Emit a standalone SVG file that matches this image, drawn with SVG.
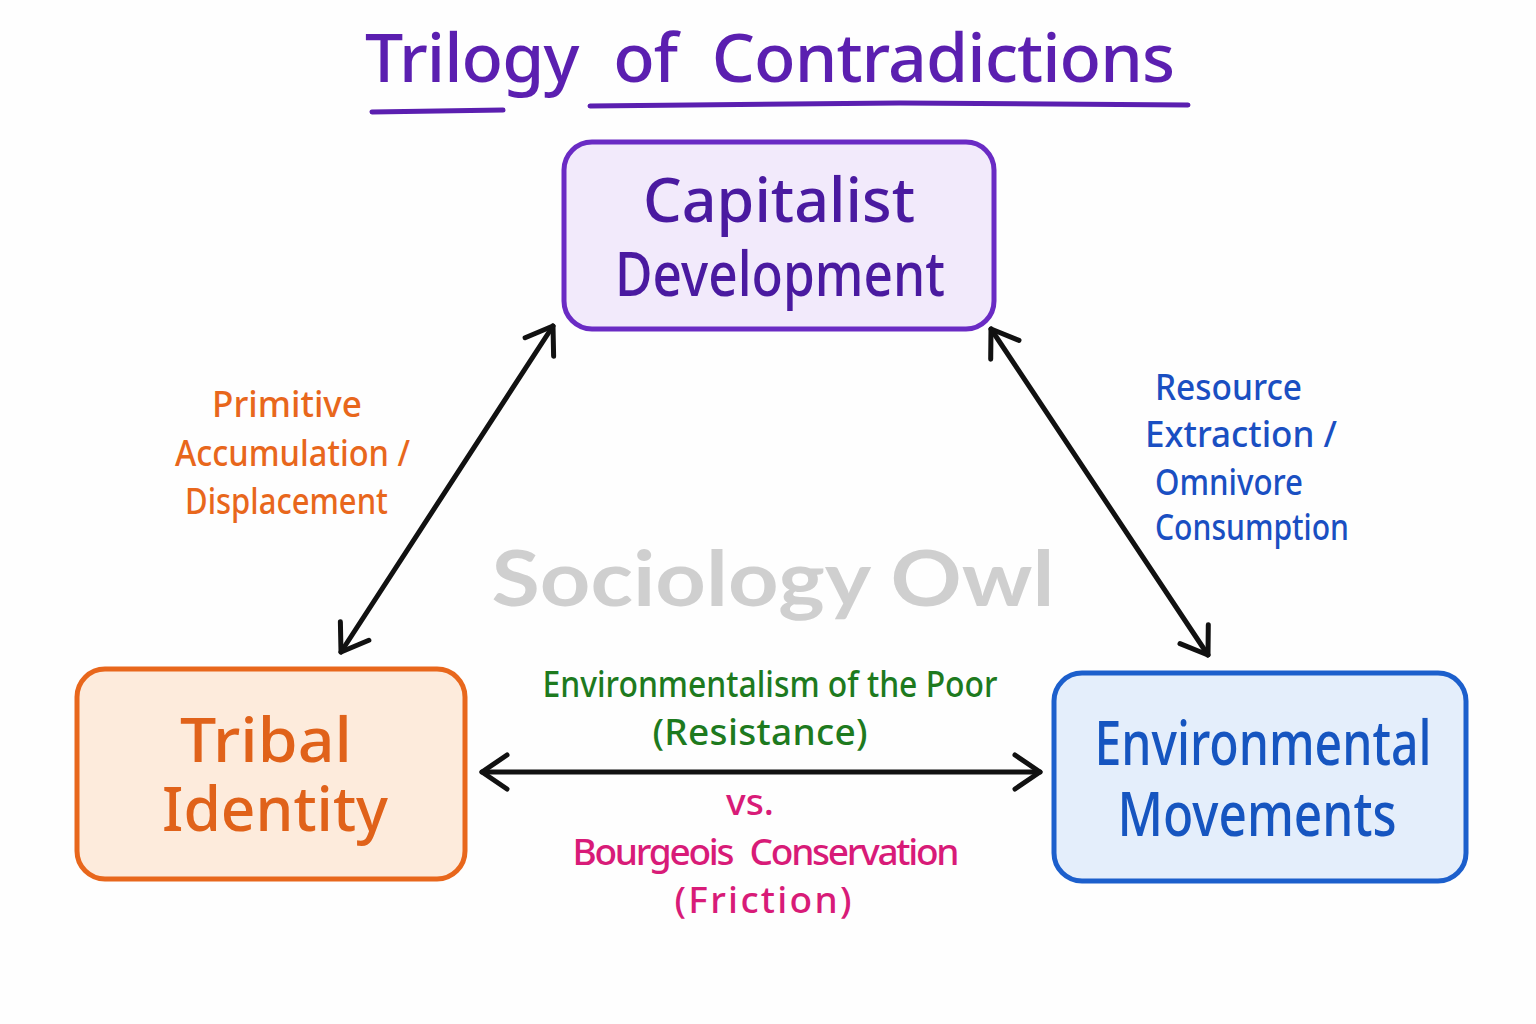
<svg xmlns="http://www.w3.org/2000/svg" width="1536" height="1024" viewBox="0 0 1536 1024">
<defs>
<style>
.hand{font-family:"Noto Sans","DejaVu Sans",sans-serif;font-weight:500;}
.node-text{font-size:62px;text-anchor:middle;}
.lbl{font-size:37px;}
.mid{text-anchor:middle;}
.box{stroke-width:5;}
.conn{stroke:#111;stroke-width:5;stroke-linecap:round;fill:none;}
</style>
<marker id="ah" viewBox="0 0 32 40" refX="29" refY="20" markerWidth="32" markerHeight="40" markerUnits="userSpaceOnUse" orient="auto-start-reverse">
<path d="M4 3 L29 20 L4 37" fill="none" stroke="#111" stroke-width="5" stroke-linecap="round" stroke-linejoin="round"/>
</marker>
</defs>
<rect width="1536" height="1024" fill="#fefefe"/>

<g id="title">
<text class="hand" x="365" y="82" font-size="68" fill="#5b1fb0" textLength="810" lengthAdjust="spacing" word-spacing="18">Trilogy of Contradictions</text>
<path d="M372 112 L503 110" stroke="#5b1fb0" stroke-width="5" stroke-linecap="round"/>
<path d="M590 106 L900 103 L1188 105" stroke="#5b1fb0" stroke-width="5" stroke-linecap="round" fill="none"/>
</g>

<text id="watermark" x="773" y="606" font-family="Lato,'Open Sans',sans-serif" font-weight="700" font-size="76" fill="#cfcfcf" text-anchor="middle" textLength="563" lengthAdjust="spacingAndGlyphs">Sociology Owl</text>

<g id="connectors">
<line class="conn" x1="553" y1="326" x2="341" y2="652" marker-start="url(#ah)" marker-end="url(#ah)"/>
<line class="conn" x1="991" y1="329" x2="1208" y2="655" marker-start="url(#ah)" marker-end="url(#ah)"/>
<line class="conn" x1="482" y1="772" x2="1040" y2="772" marker-start="url(#ah)" marker-end="url(#ah)"/>
</g>

<g id="node-capitalist">
<rect class="box" x="564" y="142" width="430" height="187" rx="28" fill="#f2eafb" stroke="#6a2bc4"/>
<text class="hand node-text" x="779" y="222" fill="#4a1aa0" textLength="272" lengthAdjust="spacingAndGlyphs">Capitalist</text>
<text class="hand node-text" x="780" y="296" fill="#4a1aa0" textLength="330" lengthAdjust="spacingAndGlyphs">Development</text>
</g>

<g id="node-tribal">
<rect class="box" x="77" y="669" width="388" height="210" rx="28" fill="#fdebdc" stroke="#e8671c"/>
<text class="hand node-text" x="266" y="762" fill="#e0621a" textLength="172" lengthAdjust="spacingAndGlyphs">Tribal</text>
<text class="hand node-text" x="275" y="831" fill="#e0621a" textLength="226" lengthAdjust="spacingAndGlyphs">Identity</text>
</g>

<g id="node-environmental">
<rect class="box" x="1054" y="673" width="412" height="208" rx="28" fill="#e4eefb" stroke="#1c5fcc"/>
<text class="hand node-text" x="1263" y="765" fill="#1655c0" textLength="337" lengthAdjust="spacingAndGlyphs">Environmental</text>
<text class="hand node-text" x="1257" y="836" fill="#1655c0" textLength="279" lengthAdjust="spacingAndGlyphs">Movements</text>
</g>

<g id="label-primitive" class="hand lbl" fill="#e8671c">
<text x="287" y="417" class="mid" textLength="150" lengthAdjust="spacingAndGlyphs">Primitive</text>
<text x="175" y="466" textLength="235" lengthAdjust="spacingAndGlyphs">Accumulation /</text>
<text x="185" y="514" textLength="203" lengthAdjust="spacingAndGlyphs">Displacement</text>
</g>

<g id="label-resource" class="hand lbl" fill="#1a4fc2">
<text x="1155" y="400" textLength="147" lengthAdjust="spacingAndGlyphs">Resource</text>
<text x="1145" y="447" textLength="192" lengthAdjust="spacingAndGlyphs">Extraction /</text>
<text x="1155" y="495" textLength="148" lengthAdjust="spacingAndGlyphs">Omnivore</text>
<text x="1155" y="540" textLength="194" lengthAdjust="spacingAndGlyphs">Consumption</text>
</g>

<g id="label-poor" class="hand lbl mid" fill="#1e7a1e">
<text x="770" y="697" textLength="455" lengthAdjust="spacingAndGlyphs">Environmentalism of the Poor</text>
<text x="760" y="745" textLength="215" lengthAdjust="spacing">(Resistance)</text>
</g>

<g id="label-bourgeois" class="hand lbl mid" fill="#d81b78">
<text x="750" y="815" textLength="48" lengthAdjust="spacingAndGlyphs">vs.</text>
<text x="766" y="865" textLength="387" lengthAdjust="spacing" word-spacing="10">Bourgeois Conservation</text>
<text x="763" y="913" textLength="177" lengthAdjust="spacing">(Friction)</text>
</g>
</svg>
